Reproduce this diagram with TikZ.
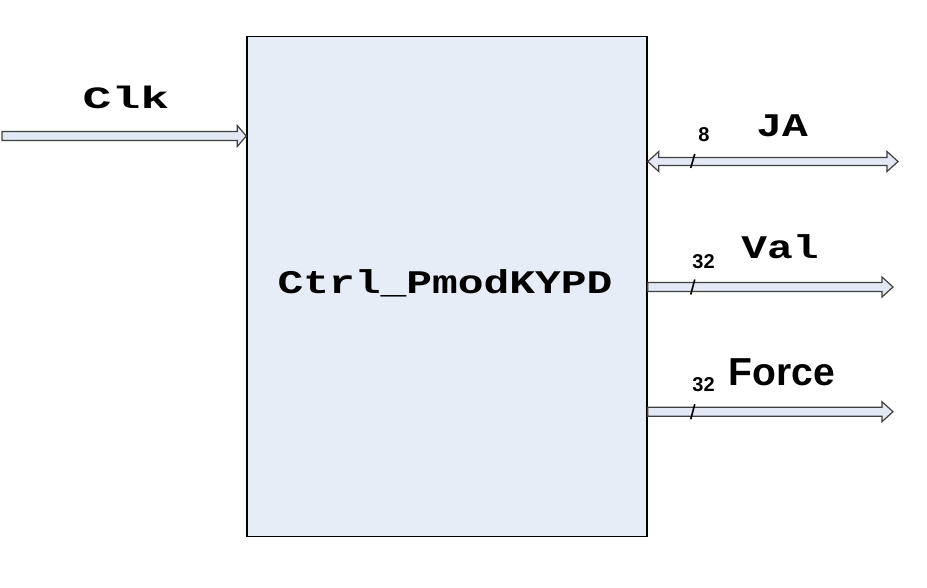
\documentclass[tikz,border=0pt]{standalone}
\usepackage{fontspec}
\setmainfont{Liberation Sans}
\setmonofont{Liberation Mono}
\usepackage{graphicx}
\usetikzlibrary{positioning,calc}
\definecolor{blockfill}{RGB}{230,237,247}
\definecolor{busfill}{RGB}{226,233,244}

\begin{document}
\begin{tikzpicture}[x=1pt,y=-1pt,
block/.style={draw,line width=1.5pt,fill=blockfill,minimum width=400pt,minimum height=500pt,inner sep=0pt},
bus/.style={draw=black!75,line width=1.2pt,fill=busfill,line join=miter},
sig/.style={font=\ttfamily\bfseries\fontsize{33}{33}\selectfont,anchor=base},
bits/.style={font=\bfseries\fontsize{20}{20}\selectfont,anchor=base},
slash/.style={line width=1.6pt}]
    \useasboundingbox (0,0) rectangle (927,587);

    % Block
    \node[block] (ctrl) at (447,286.5) {};
    \node[sig] (name) at (445,293) {\scalebox{1.3}[1]{Ctrl\_PmodKYPD}};

    % Clk input
    \coordinate (clkin) at (2,136);
    \coordinate (clktip) at (ctrl.west |- clkin);
    \draw[bus] ($(clkin)+(0,-4.5)$) -- ($(clktip)+(-9,-4.5)$) -- ++(0,-6) -- (clktip)
        -- ++(-9,10.5) -- ++(0,-6) -- ($(clkin)+(0,4.5)$) -- cycle;
    \node[sig,font=\ttfamily\bfseries\fontsize{31}{31}\selectfont] (clk) at (126,108) {\scalebox{1.55}[1]{Clk}};

    % JA, both ways
    \coordinate (jaout) at (898,161.5);
    \coordinate (jain) at (ctrl.east |- jaout);
    \draw[bus] (jain) -- ++(11,-10) -- ++(0,6) -- ($(jaout)+(-11,-4)$) -- ++(0,-6) -- (jaout)
        -- ++(-11,10) -- ++(0,-6) -- ($(jain)+(11,4)$) -- ++(0,6) -- cycle;
    \draw[slash] ($(jain)+(43,6.5)$) -- ++(4,-14);
    \node[bits] (jabits) at (704,141.5) {8};
    \node[sig] (ja) at (782,136) {\scalebox{1.3}[1]{JA}};

    % Val out
    \coordinate (valout) at (893,287);
    \coordinate (valin) at (ctrl.east |- valout);
    \draw[bus] ($(valin)+(0,-4.5)$) -- ($(valout)+(-11,-4.5)$) -- ++(0,-5.5) -- (valout)
        -- ++(-11,10) -- ++(0,-5.5) -- ($(valin)+(0,4.5)$) -- cycle;
    \draw[slash] ($(valin)+(43,7.5)$) -- ++(4,-15);
    \node[bits] (valbits) at (703.5,268) {32};
    \node[sig] (val) at (780,258) {\scalebox{1.3}[1]{Val}};

    % Force out
    \coordinate (forceout) at (893,411.7);
    \coordinate (forcein) at (ctrl.east |- forceout);
    \draw[bus] ($(forcein)+(0,-4.5)$) -- ($(forceout)+(-11,-4.5)$) -- ++(0,-5.5) -- (forceout)
        -- ++(-11,10) -- ++(0,-5.5) -- ($(forcein)+(0,4.5)$) -- cycle;
    \draw[slash] ($(forcein)+(43,7.5)$) -- ++(4,-15);
    \node[bits] (forcebits) at (703.5,391) {32};
    \node[anchor=base,font=\bfseries\fontsize{39}{39}\selectfont] (force) at (782,385) {Force};
\end{tikzpicture}
\end{document}
